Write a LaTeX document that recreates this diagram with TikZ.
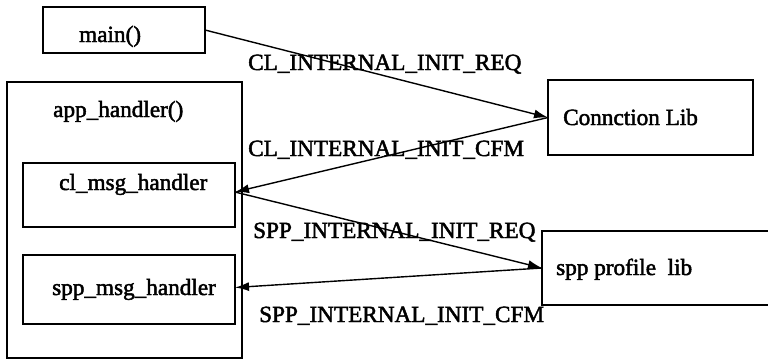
\documentclass[tikz,border=0pt]{standalone}
\usepackage{fontspec}
\setmainfont{Liberation Serif}
\newfontfamily\labelfont{Liberation Serif}[FakeBold=2]
\usetikzlibrary{arrows.meta}

\begin{document}
\begin{tikzpicture}[x=1pt, y=-1pt,
  box/.style={draw, line width=1.5pt, inner sep=0pt, outer sep=0pt},
  txt/.style={anchor=base west, inner sep=0pt, font=\fontsize{23.2}{27}\labelfont},
  msg/.style={line width=1.4pt, -{Latex[length=14pt,width=9pt]}}]
  \useasboundingbox (0,0) rectangle (768,359);
  \clip (0,0) rectangle (768,359);
  \fill[white] (0,0) rectangle (768,359);

  % boxes
  \node[box, minimum width=162pt, minimum height=46pt] (main) at (124,30) {};
  \node[box, minimum width=235pt, minimum height=276pt] (app) at (124.5,220) {};
  \node[box, minimum width=212pt, minimum height=64pt] (cl) at (129,195) {};
  \node[box, minimum width=212pt, minimum height=69pt] (sppmsg) at (129,289.5) {};
  \node[box, minimum width=205pt, minimum height=75pt] (conn) at (650.5,117.5) {};
  \node[box, minimum width=248pt, minimum height=74pt] (spp) at (666,268) {};

  % box texts
  \node[txt] (tmain) at (79,42) {main()};
  \node[txt] (tapp) at (53,117) {app\_handler()};
  \node[txt] (tcl) at (59,190) {cl\_msg\_handler};
  \node[txt] (tsppmsg) at (52,295) {spp\_msg\_handler};
  \node[txt] (tconn) at (563,125) {Connction Lib};
  \node[txt] (tspp) at (556,275) {spp profile\ \ lib};

  % messages
  \draw[msg] (main.east) -- (conn.west);
  \draw[msg] (conn.west) -- ([yshift=3pt]cl.east);
  \draw[msg] ([yshift=3pt]cl.east) -- (spp.west);
  \draw[msg] (spp.west) -- ([yshift=2pt]sppmsg.east);

  % message labels
  \node[txt] (lreq) at (248,70) {CL\_INTERNAL\_INIT\_REQ};
  \node[txt] (lcfm) at (248,156) {CL\_INTERNAL\_INIT\_CFM};
  \node[txt] (sreq) at (253,238) {SPP\_INTERNAL\_INIT\_REQ};
  \node[txt] (scfm) at (259,322) {SPP\_INTERNAL\_INIT\_CFM};
\end{tikzpicture}
\end{document}
